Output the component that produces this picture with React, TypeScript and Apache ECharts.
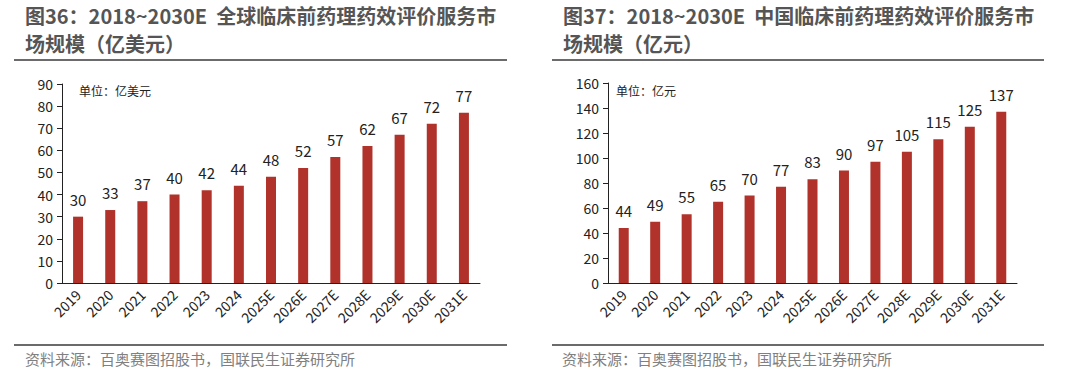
import React, { useEffect, useRef } from "react";
import * as echarts from "echarts";

const categories = ["2019", "2020", "2021", "2022", "2023", "2024", "2025E", "2026E", "2027E", "2028E", "2029E", "2030E", "2031E"];
const globalValues = [30, 33, 37, 40, 42, 44, 48, 52, 57, 62, 67, 72, 77];
const chinaValues = [44, 49, 55, 65, 70, 77, 83, 90, 97, 105, 115, 125, 137];
const leftTitle = ["图36：2018~2030E  全球临床前药理药效评价服务市", "场规模（亿美元）"];
const rightTitle = ["图37：2018~2030E  中国临床前药理药效评价服务市", "场规模（亿元）"];
const leftUnit = "单位：亿美元";
const rightUnit = "单位：亿元";
const sourceText = "资料来源：百奥赛图招股书，国联民生证券研究所";

const FONT = '"Noto Sans CJK SC", "Noto Sans", sans-serif';
const BAR = "#B0322A";

export default function App() {
  const ref = useRef<HTMLDivElement>(null);
  useEffect(() => {
    document.body.style.margin = "0";
    const chart = echarts.init(ref.current!, null, { renderer: "svg" });
    const xAxis = (gi: number) => ({
      type: "category",
      gridIndex: gi,
      data: categories,
      axisLine: { lineStyle: { color: "#222", width: 1 } },
      axisTick: { show: false },
      axisLabel: { rotate: 45, fontSize: 14, color: "#222", fontFamily: FONT, margin: 9 },
    });
    const yAxis = (gi: number, max: number, interval: number) => ({
      type: "value",
      gridIndex: gi,
      min: 0,
      max,
      interval,
      axisLine: { show: true, lineStyle: { color: "#222", width: 1 } },
      axisTick: { show: true, length: 5, lineStyle: { color: "#222" } },
      axisLabel: { fontSize: 14, color: "#222", fontFamily: FONT, margin: 9 },
      splitLine: { show: false },
    });
    const series = (idx: number, data: number[]) => ({
      type: "bar",
      xAxisIndex: idx,
      yAxisIndex: idx,
      data,
      barWidth: 10,
      itemStyle: { color: BAR },
      label: { show: true, position: "top", distance: 10, fontSize: 15, color: "#222", fontFamily: FONT },
    });
    const titleText = (x: number, lines: string[]) =>
      lines.map((t, i) => ({
        type: "text",
        left: x,
        top: 5 + i * 28,
        style: { text: t, fontSize: 20, fontWeight: "bold", fill: "#555", fontFamily: FONT },
      }));
    const hline = (x1: number, x2: number, y: number, w: number) => ({
      type: "line",
      shape: { x1, y1: y, x2, y2: y },
      style: { stroke: "#6b6b6b", lineWidth: w },
    });
    chart.setOption({
      animation: false,
      backgroundColor: "#fff",
      grid: [
        { left: 62, right: 600, top: 84, bottom: 104 },
        { left: 608, right: 63, top: 83, bottom: 104 },
      ],
      xAxis: [xAxis(0), xAxis(1)],
      yAxis: [yAxis(0, 90, 10), yAxis(1, 160, 20)],
      series: [series(0, globalValues), series(1, chinaValues)],
      graphic: [
        ...titleText(25, leftTitle),
        ...titleText(563, rightTitle),
        hline(14, 507, 60, 2),
        hline(552, 1044, 60, 2),
        hline(14, 507, 345, 2),
        hline(552, 1044, 345, 2),
        { type: "text", left: 79, top: 84, style: { text: leftUnit, fontSize: 12, fill: "#222", fontFamily: FONT } },
        { type: "text", left: 616, top: 84, style: { text: rightUnit, fontSize: 12, fill: "#222", fontFamily: FONT } },
        { type: "text", left: 25, top: 351, style: { text: sourceText, fontSize: 15, fill: "#808080", fontFamily: FONT } },
        { type: "text", left: 562, top: 351, style: { text: sourceText, fontSize: 15, fill: "#808080", fontFamily: FONT } },
      ],
    });
    return () => chart.dispose();
  }, []);
  return <div ref={ref} style={{ width: 1080, height: 387 }} />;
}
